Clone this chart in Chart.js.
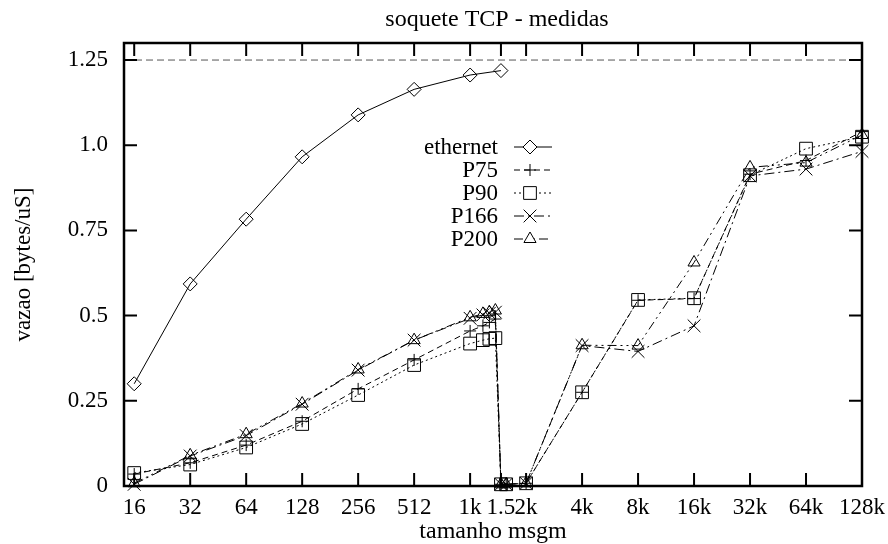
<!DOCTYPE html>
<html>
<head>
<meta charset="utf-8">
<script src="https://cdn.jsdelivr.net/npm/chart.js@4"></script>
<style>
  html, body { margin: 0; padding: 0; background: #fff; }
  #wrap { width: 888px; height: 544px; }
</style>
</head>
<body>
<div id="wrap"><canvas id="myChart" width="888" height="544"></canvas></div>
<script>
// message sizes (bytes)
const ethSizes = [16, 32, 64, 128, 256, 512, 1024, 1500];
const sizes = [16, 32, 64, 128, 256, 512, 1024, 1200, 1300, 1400, 1500, 1600, 2048,
               4096, 8192, 16384, 32768, 65536, 131072];

// throughput (bytes/uS)
const ethernet = [0.30, 0.593, 0.783, 0.966, 1.089, 1.164, 1.206, 1.219];
const p75  = [0.035, 0.068, 0.120, 0.190, 0.285, 0.370, 0.455, 0.470, 0.480, 0.490, 0.005, 0.005, 0.008,
              0.275, 0.545, 0.550, 0.915, 0.955, 1.040];
const p90  = [0.038, 0.063, 0.113, 0.182, 0.267, 0.355, 0.418, 0.428, 0.432, 0.434, 0.005, 0.005, 0.008,
              0.275, 0.546, 0.551, 0.912, 0.990, 1.025];
const p166 = [0.005, 0.088, 0.148, 0.240, 0.340, 0.428, 0.492, 0.502, 0.507, 0.510, 0.005, 0.005, 0.008,
              0.412, 0.395, 0.470, 0.910, 0.930, 0.982];
const p200 = [0.008, 0.090, 0.152, 0.242, 0.342, 0.428, 0.495, 0.505, 0.510, 0.515, 0.005, 0.005, 0.008,
              0.413, 0.412, 0.656, 0.935, 0.949, 1.030];

// ethernet limit line (10 Mbit/s)
const limitY = 1.25;

// axes
const xRange = [14.1, 131072];
const yRange = [0, 1.30];
const xTickValues = [16, 32, 64, 128, 256, 512, 1024, 1500, 2048, 4096, 8192, 16384, 32768, 65536, 131072];
const xTickLabels = ["16", "32", "64", "128", "256", "512", "1k", "1.5", "2k", "4k", "8k", "16k", "32k", "64k", "128k"];
const yTickValues = [0, 0.25, 0.5, 0.75, 1.0, 1.25];
const yTickLabels = ["0", "0.25", "0.5", "0.75", "1.0", "1.25"];

const titleText = "soquete TCP - medidas";

const FONT = "'Liberation Serif', 'DejaVu Serif', serif";
Chart.defaults.font.family = FONT;
Chart.defaults.font.size = 23;
Chart.defaults.color = "#000";

function pts(xs, ys) {
    return xs.map((x, i) => ({ x: x, y: ys[i] }));
}

function series(label, xs, ys, style, radius, dash) {
    return {
        label: label,
        data: pts(xs, ys),
        borderColor: "#000",
        borderWidth: 1,
        borderDash: dash,
        pointStyle: style,
        pointRadius: radius,
        pointBorderWidth: 1,
        pointBorderColor: "#000",
        pointBackgroundColor: "rgba(0,0,0,0)",
        tension: 0,
        fill: false,
        clip: 12
    };
}

const datasets = [
    series("ethernet", ethSizes, ethernet, "rectRot", 7, []),
    series("P75", sizes, p75, "cross", 6, [6, 4]),
    series("P90", sizes, p90, "rect", 9, [2, 3]),
    series("P166", sizes, p166, "crossRot", 9, [10, 4, 2, 4]),
    series("P200", sizes, p200, "triangle", 7, [9, 4, 2, 4, 2, 4]),
    {
        label: "_limit",
        data: [{ x: xRange[0], y: limitY }, { x: xRange[1], y: limitY }],
        borderColor: "#555",
        borderWidth: 1,
        borderDash: [7, 4],
        pointRadius: 0,
        fill: false
    }
];

// frame + inward ticks on all four sides (gnuplot look), title over plot area
const framePlugin = {
    id: "frame",
    afterDraw(chart) {
        const { ctx, chartArea: a, scales } = chart;
        const len = 13;
        ctx.save();
        ctx.strokeStyle = "#000";
        ctx.lineWidth = 2;
        ctx.setLineDash([]);
        ctx.beginPath();
        for (const v of yTickValues) {
            const y = scales.y.getPixelForValue(v);
            ctx.moveTo(a.left, y); ctx.lineTo(a.left + len, y);
            ctx.moveTo(a.right, y); ctx.lineTo(a.right - len, y);
        }
        for (const v of xTickValues) {
            const x = scales.x.getPixelForValue(v);
            ctx.moveTo(x, a.bottom); ctx.lineTo(x, a.bottom - len);
            ctx.moveTo(x, a.top); ctx.lineTo(x, a.top + len);
        }
        ctx.stroke();
        ctx.lineWidth = 2.5;
        ctx.strokeRect(a.left, a.top, a.right - a.left, a.bottom - a.top);

        ctx.font = "24px " + FONT;
        ctx.fillStyle = "#000";
        ctx.textAlign = "center";
        ctx.textBaseline = "middle";
        ctx.fillText(titleText, (a.left + a.right) / 2 + 4, 20);
        ctx.restore();
    }
};

// key inside the plot: text right-aligned, sample line + marker to the right
const keyPlugin = {
    id: "key",
    afterDatasetsDraw(chart, args, opts) {
        const ctx = chart.ctx;
        ctx.save();
        ctx.font = "23px " + FONT;
        ctx.textAlign = "right";
        ctx.textBaseline = "middle";
        let y = opts.top;
        chart.data.datasets.forEach(ds => {
            if (ds.label.startsWith("_")) return;
            ctx.fillStyle = "#000";
            ctx.fillText(ds.label, opts.textRight, y + 1);
            ctx.strokeStyle = "#000";
            ctx.lineWidth = 1;
            ctx.setLineDash(ds.borderDash || []);
            ctx.beginPath();
            ctx.moveTo(opts.lineLeft, y);
            ctx.lineTo(opts.lineRight, y);
            ctx.stroke();
            ctx.setLineDash([]);
            ctx.fillStyle = "#fff";
            Chart.helpers.drawPoint(ctx, {
                pointStyle: ds.pointStyle,
                radius: ds.pointRadius,
                borderWidth: 1,
                rotation: 0
            }, opts.marker, y);
            y += opts.step;
        });
        ctx.restore();
    }
};

const ctx = document.getElementById("myChart").getContext("2d");

const myChart = new Chart(ctx, {
    type: "line",
    data: { datasets: datasets },
    plugins: [framePlugin, keyPlugin],
    options: {
        responsive: false,
        animation: false,
        layout: { padding: { left: 0, right: 26, top: 43, bottom: 0 } },
        plugins: {
            legend: { display: false },
            tooltip: { enabled: false },
            title: { display: false },
            key: { top: 147, step: 23, textRight: 498, lineLeft: 514, lineRight: 552, marker: 530 }
        },
        scales: {
            x: {
                type: "logarithmic",
                min: xRange[0],
                max: xRange[1],
                grid: { display: false, drawTicks: false },
                border: { display: false },
                afterBuildTicks: scale => {
                    scale.ticks = xTickValues.map(v => ({ value: v }));
                },
                afterFit: scale => {
                    scale.height = 58;
                    scale.paddingLeft = 0;
                    scale.paddingRight = 0;
                },
                ticks: {
                    autoSkip: false,
                    maxRotation: 0,
                    padding: 8,
                    callback: (value, index) => xTickLabels[index]
                },
                title: {
                    display: true,
                    text: "tamanho msgm",
                    font: { size: 24, lineHeight: 1.0 },
                    padding: { top: 0, bottom: 0 }
                }
            },
            y: {
                min: yRange[0],
                max: yRange[1],
                grid: { display: false, drawTicks: false },
                border: { display: false },
                afterBuildTicks: scale => {
                    scale.ticks = yTickValues.map(v => ({ value: v }));
                },
                afterFit: scale => {
                    scale.width = 124;
                    scale.paddingTop = 0;
                    scale.paddingBottom = 0;
                },
                ticks: {
                    padding: 16,
                    callback: (value, index) => yTickLabels[index]
                },
                title: {
                    display: true,
                    text: "vazao [bytes/uS]",
                    font: { size: 23, lineHeight: 1.0 },
                    padding: { top: 12, bottom: 0 }
                }
            }
        }
    }
});
</script>
</body>
</html>
